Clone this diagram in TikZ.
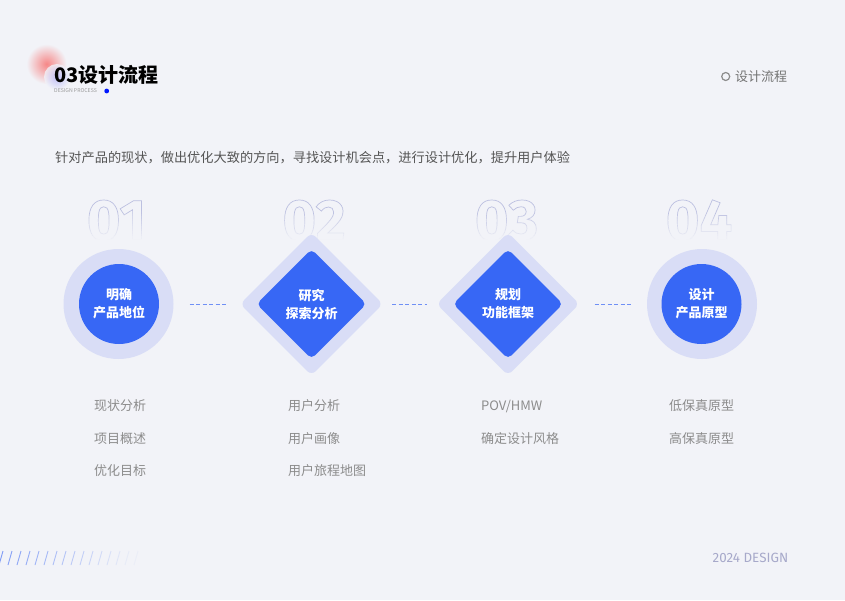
\documentclass[tikz,border=0pt]{standalone}
\usepackage{fontspec}
\setmainfont{Noto Sans CJK SC}
\newfontfamily\numfont{Fira Sans}
\usetikzlibrary{shapes.geometric}
\definecolor{bg}{HTML}{F2F3F8}
\definecolor{mainblue}{HTML}{3767F5}
\definecolor{ring}{HTML}{D9DDF6}
\definecolor{numline}{HTML}{BCC0E0}
\definecolor{listgray}{HTML}{8C8C8C}
\definecolor{subgray}{HTML}{555555}
\definecolor{dashblue}{HTML}{6F8FF5}
\definecolor{yeargray}{HTML}{A7A9CA}
\newcommand\outlinetext[1]{\special{pdf:literal direct 1 Tr 0.7 w}#1\special{pdf:literal direct 0 Tr}}
\tikzset{
  outerc/.style={circle, fill=ring, minimum size=110pt, inner sep=0pt},
  innerc/.style={circle, fill=mainblue, minimum size=80pt, inner sep=0pt, text=white,
    font=\bfseries\fontsize{13}{18}\selectfont, align=center},
  outerd/.style={diamond, fill=ring, minimum width=143pt, minimum height=143pt, inner sep=0pt, rounded corners=6pt},
  innerd/.style={diamond, fill=mainblue, minimum width=110pt, minimum height=110pt, inner sep=0pt, rounded corners=5pt,
    text=white, font=\bfseries\fontsize{13}{18}\selectfont, align=center},
  conn/.style={draw=dashblue, line width=0.9pt, dash pattern=on 4pt off 2.5pt},
  item/.style={anchor=west, text=listgray, font=\fontsize{13}{16}\selectfont, inner sep=0pt},
  bignum/.style={text=numline, font=\numfont\bfseries\fontsize{58}{58}\selectfont, inner sep=0pt, anchor=base},
}
\begin{document}
\begin{tikzpicture}[x=1pt,y=-1pt]
\useasboundingbox (0,0) rectangle (845,600);
\fill[bg] (0,0) rectangle (845,600);

% title blobs
\shade[inner color={rgb,255:red,246;green,135;blue,135}, outer color=bg] (46.5,64) circle (20);
\shade[inner color={rgb,255:red,180;green,180;blue,250}, outer color=bg, opacity=0.8] (57,77) circle (13);
\node[anchor=west, inner sep=0pt, font=\bfseries\fontsize{20}{24}\selectfont, text=black] (title) at (54,75) {03设计流程};
\node[anchor=west, inner sep=0pt, font=\fontsize{5.2}{6}\selectfont, text=gray!80] (sub) at (54,91) {DESIGN PROCESS};
\fill[blue!85!cyan!60!blue] (106.7,91) circle (2.4);

% top right
\draw[gray!90, line width=1.2pt] (725.7,76.5) circle (4);
\node[anchor=west, inner sep=0pt, font=\fontsize{13}{16}\selectfont, text=gray!110] (tr) at (735,76.5) {设计流程};

% subtitle
\node[anchor=west, inner sep=0pt, font=\fontsize{13.2}{16}\selectfont, text=subgray] (desc) at (55,158)
  {针对产品的现状，做出优化大致的方向，寻找设计机会点，进行设计优化，提升用户体验};

% big numbers
\node[bignum] (n1) at (116.5,240) {\outlinetext{01}};
\node[bignum] (n2) at (314,240) {\outlinetext{02}};
\node[bignum] (n3) at (506.5,240) {\outlinetext{03}};
\node[bignum] (n4) at (699,240) {\outlinetext{04}};
\foreach \i in {0,...,11}{
  \pgfmathsetmacro\op{min(1,0.05+\i*0.085)}
  \fill[bg, opacity=\op] (60,{211+\i*2.5}) rectangle (780,{213.6+\i*2.5});
}
\fill[bg] (60,240) rectangle (780,250);

% shapes
\node[outerc] (o1) at (118.5,304) {};
\node[innerc] (s1) at (119,304) {明确\\产品地位};
\node[outerd] (o2) at (311.5,304) {};
\node[innerd] (s2) at (311.5,304) {研究\\探索分析};
\node[outerd] (o3) at (508,304) {};
\node[innerd] (s3) at (508,304) {规划\\功能框架};
\node[outerc] (o4) at (702,304) {};
\node[innerc] (s4) at (701.5,304) {设计\\产品原型};

% connectors
\draw[conn, shorten <=16pt, shorten >=13pt] (o1) -- (o2);
\draw[conn, shorten <=9pt, shorten >=9pt] (o2) -- (o3);
\draw[conn, shorten <=15pt, shorten >=16pt] (o3) -- (o4);

% lists
\node[item] (a1) at (94,406) {现状分析};
\node[item] (a2) at (94,438.5) {项目概述};
\node[item] (a3) at (94,471) {优化目标};
\node[item] (b1) at (288,406) {用户分析};
\node[item] (b2) at (288,438.5) {用户画像};
\node[item] (b3) at (288,471) {用户旅程地图};
\node[item] (c1) at (481,406) {POV/HMW};
\node[item] (c2) at (481,438.5) {确定设计风格};
\node[item] (d1) at (669,406) {低保真原型};
\node[item] (d2) at (669,438.5) {高保真原型};

% slashes
\foreach \i in {0,...,15}{
  \pgfmathsetmacro\op{max(0.05,0.85-\i*0.055)}
  \draw[dashblue, line width=0.9pt, opacity=\op] ({\i*9-1},565) -- ({\i*9+3},551);
}

% year
\node[anchor=west, inner sep=0pt, font=\numfont\fontsize{13.4}{15}\selectfont, text=yeargray] (year) at (712.5,558) {2024 DESIGN};
\end{tikzpicture}
\end{document}
